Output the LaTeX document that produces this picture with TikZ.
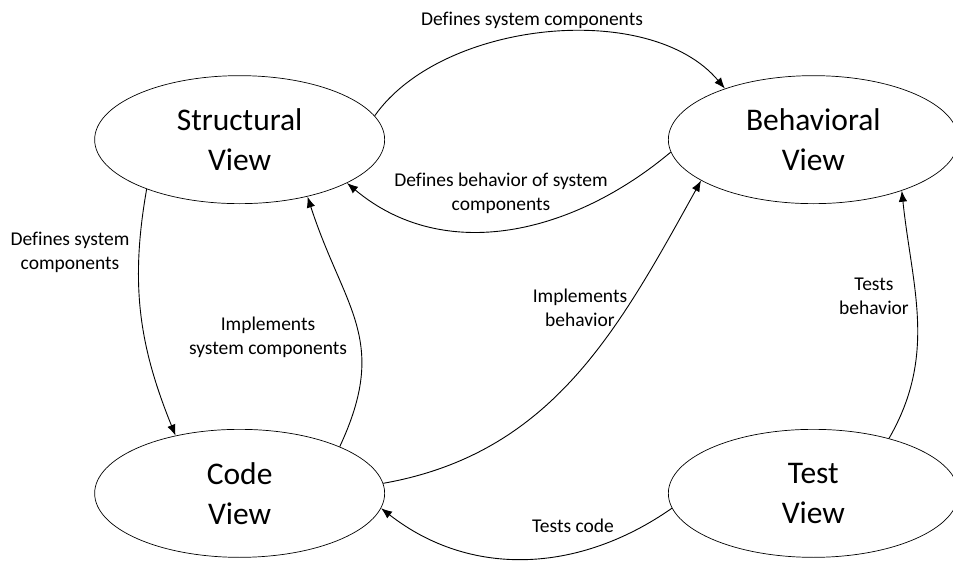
\documentclass[tikz,border=0pt]{standalone}
\usepackage{fontspec}
\setmainfont{Carlito}[Ligatures=CommonOff]
\usepackage{tikz}
\usetikzlibrary{positioning,shapes.geometric,arrows.meta}

\begin{document}
\begin{tikzpicture}[x=1pt, y=1pt, >={Latex[length=11pt,width=8.5pt]}]
        \tikzstyle{view}=[ellipse, draw, line width=0.7pt, minimum width=290pt, minimum height=128pt, align=center, font=\fontsize{31.5}{40}\selectfont]
        \tikzstyle{lbl}=[align=center, inner sep=1pt, font=\fontsize{19.5}{24}\selectfont]

        \useasboundingbox (0,0) rectangle (953,560);

        \matrix[draw=none, column sep=283pt, row sep=225pt] at (526.5,243.5) {
            \node   (struct)   [view] {Structural\\View}; &
            \node   (behav)    [view] {Behavioral\\View}; \\
            \node   (code)     [view] {Code\\View}; &
            \node   (test)     [view] {Test\\View}; \\
        };

        \path[->, line width=0.9pt]
                        (struct.10)  edge [out=55, in=130, looseness=0.85] (behav.150)
                        (behav.185)  edge [out=220, in=320] (struct.338)
                        (struct.208) edge [out=260, in=112] (code.138)
                        (code.25)    edge [out=65, in=288, looseness=1.2] (struct.320)
                        (code.4)     edge [out=10, in=241] (behav.200)
                        (test.36)    edge [out=60, in=276] (behav.330)
                        (test.186)   edge [out=215, in=322] (code.354);

        \node (l1) [lbl] at (532,540) {Defines system components};
        \node (l2) [lbl] at (501,367) {Defines behavior of system\\components};
        \node (l3) [lbl] at (70,308)  {Defines system\\components};
        \node (l4) [lbl] at (268,223) {Implements\\system components};
        \node (l5) [lbl] at (580,252) {Implements\\behavior};
        \node (l6) [lbl] at (874,264) {Tests\\behavior};
        \node (l7) [lbl] at (573,34)  {Tests code};

    \end{tikzpicture}
\end{document}
